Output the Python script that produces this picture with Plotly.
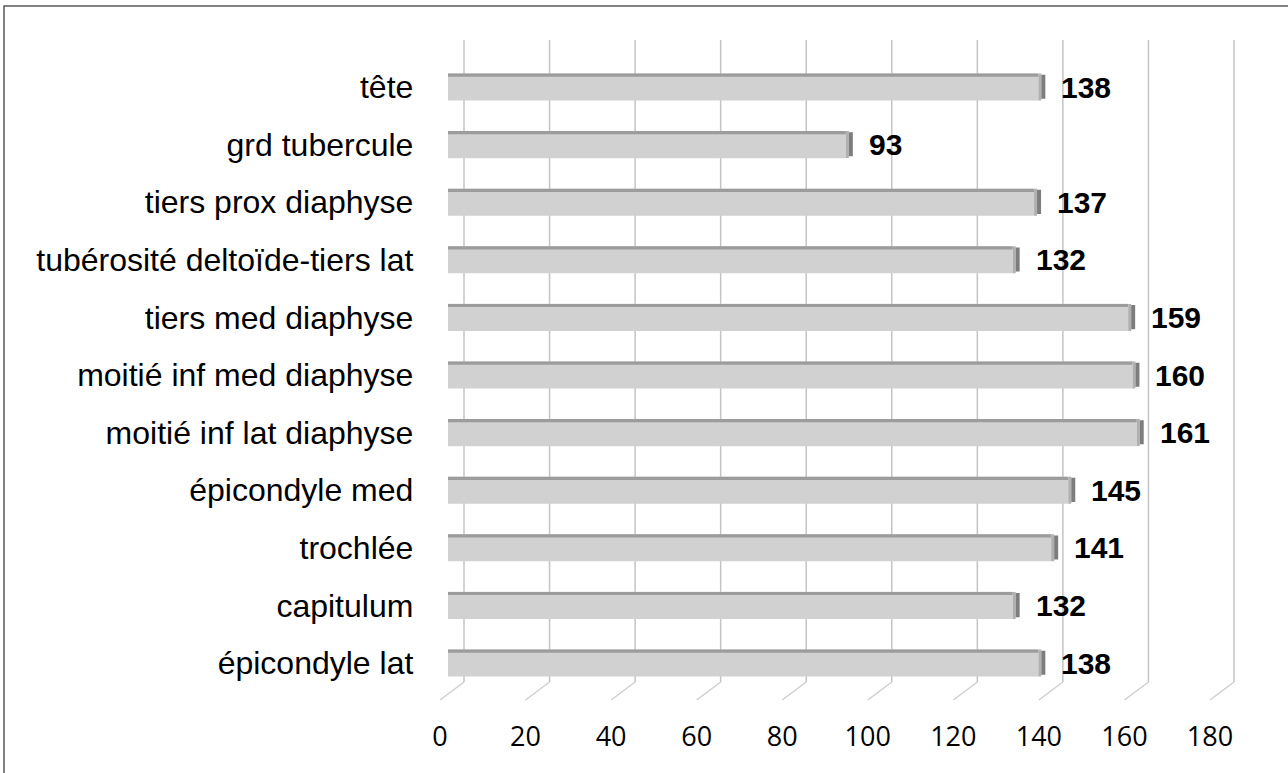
import plotly.graph_objects as go

categories = ["tête", "grd tubercule", "tiers prox diaphyse", "tubérosité deltoïde-tiers lat",
              "tiers med diaphyse", "moitié inf med diaphyse", "moitié inf lat diaphyse",
              "épicondyle med", "trochlée", "capitulum", "épicondyle lat"]
values = [138, 93, 137, 132, 159, 160, 161, 145, 141, 132, 138]
tick_values = [0, 20, 40, 60, 80, 100, 120, 140, 160, 180]

W, H = 1288, 773
# pixel geometry: 0 -> 448 px, 180 -> 1218 px; axis range padded so decorations are not clipped
px_per_unit = (1218 - 448) / 180
x_min, x_max = -6, 186
x_left_px = 448 + x_min * px_per_unit
x_right_px = 448 + x_max * px_per_unit
y_top_px, y_bot_px = 58.2, 691.8
label_right_px = 413

def py(p):
    return 1 - p / H

fig = go.Figure()
fig.add_trace(go.Bar(
    y=list(range(len(categories))), x=values, orientation="h",
    marker=dict(color="#d1d1d1", line=dict(width=0)),
    hoverinfo="x+y", showlegend=False,
))

shapes = []
# back gridlines with 3D depth and diagonal floor ticks
for v in tick_values:
    shapes.append(dict(type="line", xref="x", xsizemode="pixel", xanchor=v, x0=16, x1=16,
                       yref="paper", y0=py(682), y1=py(40),
                       line=dict(color="#c4c4c4", width=1.5), layer="below"))
    shapes.append(dict(type="line", xref="x", xsizemode="pixel", xanchor=v, x0=16, x1=-8,
                       yref="paper", y0=py(682), y1=py(700),
                       line=dict(color="#cfcfcf", width=1.5), layer="below"))

half = 0.234
for i, v in enumerate(values):
    # darker top edge
    shapes.append(dict(type="rect", xref="x", yref="y", x0=0, x1=v,
                       y0=i - half, y1=i - half + 0.055,
                       fillcolor="#9c9c9c", line=dict(width=0), layer="above"))
    # end cap (side face)
    shapes.append(dict(type="rect", xref="x", xsizemode="pixel", xanchor=v, x0=0, x1=3,
                       yref="y", y0=i - half, y1=i + half,
                       fillcolor="#b0b0b0", line=dict(width=0), layer="above"))
    shapes.append(dict(type="rect", xref="x", xsizemode="pixel", xanchor=v, x0=3, x1=7,
                       yref="y", y0=i - half + 0.02, y1=i + half - 0.03,
                       fillcolor="#7d7d7d", line=dict(width=0), layer="above"))

# outer frame
shapes.append(dict(type="rect", xref="paper", yref="paper", x0=4 / W, x1=1.02,
                   y0=-0.02, y1=py(6), line=dict(color="#5a5a5a", width=1.5),
                   fillcolor="rgba(0,0,0,0)", layer="above"))

annotations = []
for i, v in enumerate(values):
    annotations.append(dict(x=v, y=i, xref="x", yref="y", text=str(v), showarrow=False,
                            xanchor="left", yanchor="middle", xshift=21,
                            font=dict(family="Liberation Sans, Arial", size=30, color="#000000",
                                      weight="bold")))

fig.update_layout(
    template="none",
    width=W, height=H,
    margin=dict(l=0, r=0, t=0, b=0, pad=0),
    paper_bgcolor="white", plot_bgcolor="rgba(0,0,0,0)",
    bargap=0.53,
    shapes=shapes, annotations=annotations,
    xaxis=dict(domain=[x_left_px / W, x_right_px / W], range=[x_min, x_max], automargin=False,
               tickvals=tick_values, ticktext=[str(t) for t in tick_values],
               showgrid=False, zeroline=False, showline=False, ticks="",
               ticklabelshift=-8, ticklabelstandoff=26,
               tickfont=dict(family="Open Sans, Lato", size=27, color="#000000")),
    yaxis=dict(domain=[py(y_bot_px), py(y_top_px)], range=[len(categories) - 0.5, -0.5],
               automargin=False,
               tickvals=list(range(len(categories))), ticktext=categories,
               showgrid=False, zeroline=False, showline=False, ticks="",
               ticklabelstandoff=int(round(x_left_px - label_right_px - 1)),
               tickfont=dict(family="Liberation Sans, Arial", size=32, color="#000000")),
)

fig.write_html("out.html", config={"displayModeBar": False},
               post_script="document.body.style.margin='0';")
